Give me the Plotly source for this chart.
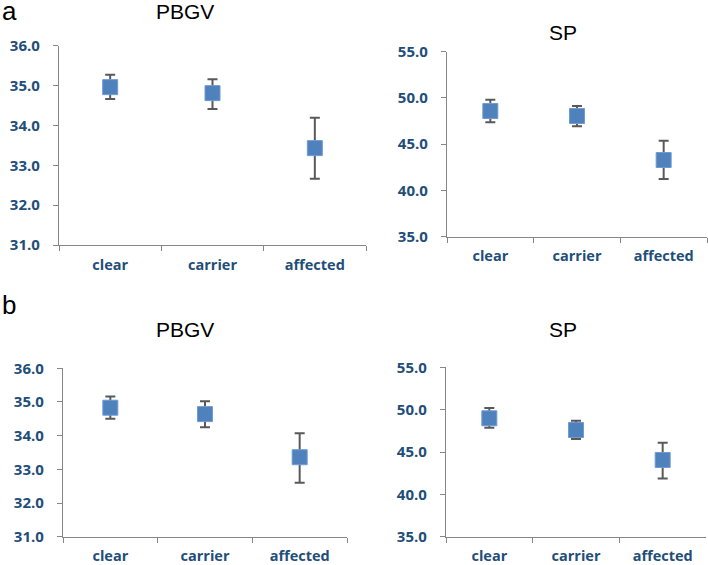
import plotly.graph_objects as go

# Données
categories = ['clear', 'carrier', 'affected']

pbgv_a_mean = [34.96, 34.81, 33.43]
pbgv_a_high = [35.27, 35.16, 34.19]
pbgv_a_low = [34.66, 34.41, 32.66]

sp_a_mean = [48.59, 48.05, 43.29]
sp_a_high = [49.81, 49.13, 45.38]
sp_a_low = [47.37, 46.93, 41.24]

pbgv_b_mean = [34.83, 34.64, 33.36]
pbgv_b_high = [35.16, 35.02, 34.07]
pbgv_b_low = [34.50, 34.25, 32.60]

sp_b_mean = [48.98, 47.60, 44.06]
sp_b_high = [50.19, 48.70, 46.10]
sp_b_low = [47.87, 46.53, 41.88]

W, H = 708, 565
label_color = '#1F4E79'
axis_color = '#868686'


def frac_x(px):
    return px / W


def frac_y(py):
    return 1 - py / H


# Panneaux : (moyenne, haut, bas, x gauche, x droite, y haut, y bas, plage, pas)
panels = [
    (pbgv_a_mean, pbgv_a_high, pbgv_a_low, 59, 366, 45.7, 245, [31, 36], 1),
    (sp_a_mean, sp_a_high, sp_a_low, 447, 707, 51.7, 236.7, [35, 55], 5),
    (pbgv_b_mean, pbgv_b_high, pbgv_b_low, 63, 347, 368.3, 536.7, [31, 36], 1),
    (sp_b_mean, sp_b_high, sp_b_low, 446, 706, 367.3, 536.7, [35, 55], 5),
]

fig = go.Figure()
layout = {}

for i, (mean, high, low, x0, x1, y0, y1, rng, dt) in enumerate(panels, start=1):
    xa = 'x' if i == 1 else 'x%d' % i
    ya = 'y' if i == 1 else 'y%d' % i
    fig.add_trace(go.Scatter(
        x=categories, y=mean, xaxis=xa, yaxis=ya, mode='markers',
        marker=dict(symbol='square', size=15, color='#4F81BD',
                    line=dict(color='#6F9BD1', width=1)),
        error_y=dict(type='data', symmetric=False,
                     array=[h - m for h, m in zip(high, mean)],
                     arrayminus=[m - l for m, l in zip(mean, low)],
                     color='#595959', thickness=2, width=5),
        showlegend=False, cliponaxis=False))
    layout['xaxis' if i == 1 else 'xaxis%d' % i] = dict(
        domain=[frac_x(x0), frac_x(x1)], anchor=ya, range=[-0.5, 2.5],
        showline=True, linecolor=axis_color, linewidth=1.3,
        ticks='outside', tickson='boundaries', ticklen=5, tickcolor=axis_color,
        showgrid=False, zeroline=False, ticklabelstandoff=6, automargin=False,
        tickfont=dict(family='Open Sans', size=14.5, color=label_color, weight='bold'))
    layout['yaxis' if i == 1 else 'yaxis%d' % i] = dict(
        domain=[frac_y(y1), frac_y(y0)], anchor=xa, range=rng, dtick=dt,
        tickformat='.1f', showline=True, linecolor=axis_color, linewidth=1.3,
        ticks='outside', ticklen=5, tickcolor=axis_color,
        showgrid=False, zeroline=False, ticklabelstandoff=10, automargin=False,
        tickfont=dict(family='Open Sans', size=15, color=label_color, weight='bold'))

titles = [('a', 9, 11, 26), ('PBGV', 185, 12, 21), ('SP', 563, 33, 21),
          ('b', 9, 305, 26), ('PBGV', 185, 329, 21), ('SP', 563, 329, 21)]
annotations = [dict(text=t, x=frac_x(x), y=frac_y(y), xref='paper', yref='paper',
                    xanchor='center', yanchor='middle', showarrow=False,
                    font=dict(family='Liberation Sans', size=s, color='black'))
               for t, x, y, s in titles]

fig.update_layout(**layout)
fig.update_layout(width=W, height=H, margin=dict(l=0, r=0, t=0, b=0),
                  paper_bgcolor='white', plot_bgcolor='white',
                  annotations=annotations)

# suppression de la marge par défaut de la page pour caler le graphique dans la fenêtre
fig.write_html('out.html', config={'displayModeBar': False},
               post_script="document.body.style.margin='0';")
